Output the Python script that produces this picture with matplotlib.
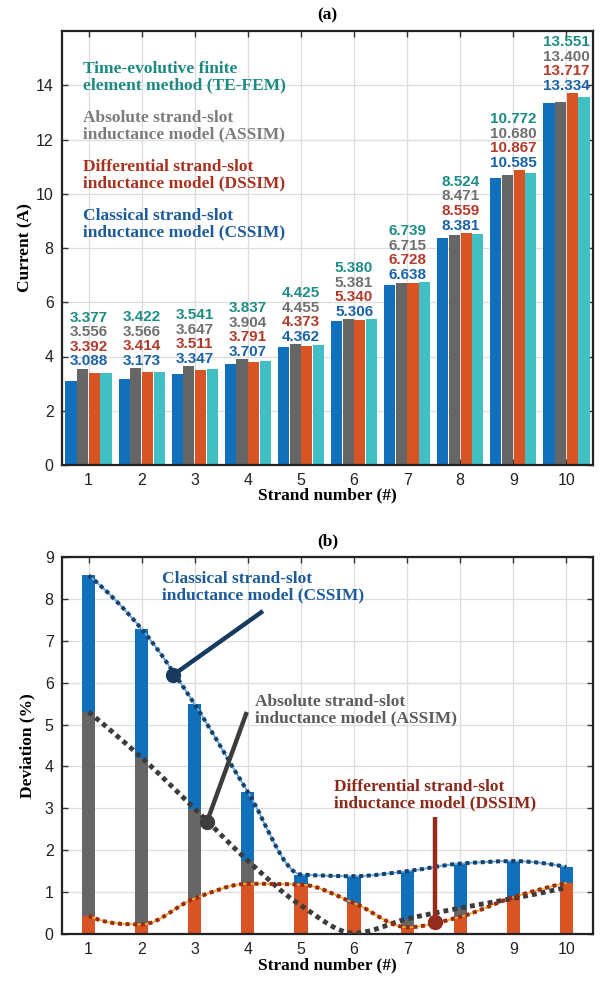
import matplotlib
matplotlib.use('Agg')
import matplotlib.pyplot as plt
from matplotlib.path import Path
from matplotlib.patches import PathPatch

plt.rcParams['font.family'] = ['Liberation Sans', 'DejaVu Sans']

# ---------------- data ----------------
strands = [1, 2, 3, 4, 5, 6, 7, 8, 9, 10]
cssim = [3.088, 3.173, 3.347, 3.707, 4.362, 5.306, 6.638, 8.381, 10.585, 13.334]
assim = [3.556, 3.566, 3.647, 3.904, 4.455, 5.381, 6.715, 8.471, 10.680, 13.400]
dssim = [3.392, 3.414, 3.511, 3.791, 4.373, 5.340, 6.728, 8.559, 10.867, 13.717]
tefem = [3.377, 3.422, 3.541, 3.837, 4.425, 5.380, 6.739, 8.524, 10.772, 13.551]

dev_cssim = [8.56, 7.28, 5.48, 3.39, 1.42, 1.38, 1.50, 1.68, 1.74, 1.60]
dev_assim = [5.30, 4.21, 2.99, 1.75, 0.68, 0.02, 0.36, 0.62, 0.85, 1.11]
dev_dssim = [0.44, 0.23, 0.85, 1.20, 1.18, 0.74, 0.16, 0.41, 0.88, 1.22]

top_yticks = [0, 2, 4, 6, 8, 10, 12, 14]
bot_yticks = [0, 1, 2, 3, 4, 5, 6, 7, 8, 9]

legend_a = [
    ("Time-evolutive finite\nelement method (TE-FEM)", '#1b8a82'),
    ("Absolute strand-slot\ninductance model (ASSIM)", '#7c7c7c'),
    ("Differential strand-slot\ninductance model (DSSIM)", '#a8321f'),
    ("Classical strand-slot\ninductance model (CSSIM)", '#1d5c99'),
]

# ---------------- style ----------------
C_BLUE = '#1170bb'
C_GRAY = '#666666'
C_ORANGE = '#d95424'
C_CYAN = '#40bfc5'
L_TEAL = '#1e8c84'
L_GRAY = '#707070'
L_RED = '#b23a2a'
L_BLUE = '#1a62a8'
SERIF = ['Liberation Serif', 'DejaVu Serif']
FS_SERIF = 12.5

W, H = 606, 981
fig = plt.figure(figsize=(W / 100, H / 100), dpi=100)


def style_axes(ax):
    ax.set_axisbelow(True)
    ax.grid(True, color='#dddddd', lw=0.9)
    for s in ax.spines.values():
        s.set_linewidth(1.6)
        s.set_color('#222222')
    ax.tick_params(direction='in', top=True, right=True, length=4, width=1,
                   color='#333333', labelsize=11.5, labelcolor='#222222', pad=6)


# ---------------- (a) ----------------
ax1 = fig.add_axes([62 / W, 1 - 465 / H, 531 / W, 434 / H])
style_axes(ax1)
bw = 0.21
series = [(cssim, C_BLUE, -0.33), (assim, C_GRAY, -0.11),
          (dssim, C_ORANGE, 0.11), (tefem, C_CYAN, 0.33)]
for vals, col, off in series:
    ax1.bar([s + off for s in strands], vals, width=bw, color=col, zorder=2)

for i, s in enumerate(strands):
    base = max(cssim[i], assim[i], dssim[i], tefem[i]) + 0.27
    for k, (vals, col) in enumerate([(cssim, L_BLUE), (dssim, L_RED),
                                      (assim, L_GRAY), (tefem, L_TEAL)]):
        ax1.text(s, base + k * 0.535, f'{vals[i]:.3f}', color=col,
                 fontsize=11, fontweight='bold', ha='center', va='center',
                 zorder=5)

ax1.set_xlim(0.5, 10.5)
ax1.set_ylim(0, 16)
ax1.set_xticks(strands)
ax1.set_yticks(top_yticks)
ax1.set_xlabel('Strand number (#)', family=SERIF, fontweight='bold',
               fontsize=FS_SERIF, labelpad=-1)
ax1.set_ylabel('Current (A)', family=SERIF, fontweight='bold',
               fontsize=FS_SERIF, labelpad=2)
ax1.set_title('(a)', family=SERIF, fontweight='bold', fontsize=FS_SERIF,
              pad=8)

for k, (txt, col) in enumerate(legend_a):
    ax1.text(0.040, 0.893 - k * 0.1129, txt, transform=ax1.transAxes,
             family=SERIF, fontweight='bold', fontsize=FS_SERIF, color=col,
             ha='left', va='center', linespacing=1.05)

# ---------------- (b) ----------------
ax2 = fig.add_axes([62 / W, 1 - 934 / H, 531 / W, 377 / H])
style_axes(ax2)
bw2 = 0.25
ax2.bar(strands, dev_cssim, width=bw2, color=C_BLUE, zorder=2)
ax2.bar(strands, dev_assim, width=bw2, color=C_GRAY, zorder=2)
ax2.bar(strands, dev_dssim, width=bw2, color=C_ORANGE, zorder=2)


def pchip_slopes(x, y):
    n = len(x)
    h = [x[i + 1] - x[i] for i in range(n - 1)]
    dl = [(y[i + 1] - y[i]) / h[i] for i in range(n - 1)]
    d = [0.0] * n
    for k in range(1, n - 1):
        if dl[k - 1] * dl[k] > 0:
            w1 = 2 * h[k] + h[k - 1]
            w2 = h[k] + 2 * h[k - 1]
            d[k] = (w1 + w2) / (w1 / dl[k - 1] + w2 / dl[k])
    for (k, a, b, ha, hb) in [(0, dl[0], dl[1], h[0], h[1]),
                              (n - 1, dl[-1], dl[-2], h[-1], h[-2])]:
        e = ((2 * ha + hb) * a - ha * b) / (ha + hb)
        if e * a <= 0:
            e = 0.0
        elif a * b < 0 and abs(e) > abs(3 * a):
            e = 3 * a
        d[k] = e
    return d


def smooth_path(x, y):
    d = pchip_slopes(x, y)
    verts = [(x[0], y[0])]
    codes = [Path.MOVETO]
    for i in range(len(x) - 1):
        h = x[i + 1] - x[i]
        verts += [(x[i] + h / 3, y[i] + d[i] * h / 3),
                  (x[i + 1] - h / 3, y[i + 1] - d[i + 1] * h / 3),
                  (x[i + 1], y[i + 1])]
        codes += [Path.CURVE4] * 3
    return Path(verts, codes)


curves = [
    (dev_assim, None, '#3c3c3c', 3.5, (0, (1, 0.85))),
    (dev_dssim, '#edb120', '#9a2a1a', 2.9, (0, (1, 0.9))),
    (dev_cssim, '#5aaae6', '#1b3f66', 2.9, (0, (1, 0.9))),
]
for vals, thin, dark, lw, ls in curves:
    p = smooth_path(strands, vals)
    if thin:
        ax2.add_patch(PathPatch(p, fill=False, edgecolor=thin, lw=1.3,
                                zorder=3))
    ax2.add_patch(PathPatch(p, fill=False, edgecolor=dark, lw=lw,
                            linestyle=ls, capstyle='butt', zorder=3.5))

# annotations
ann = [
    ((4.285, 7.71), (2.59, 6.18), '#173a5e'),
    ((3.98, 5.30), (3.23, 2.68), '#3d3d3d'),
    ((7.52, 2.79), (7.52, 0.29), '#952b1d'),
]
for (x0, y0), (x1, y1), col in ann:
    ax2.plot([x0, x1], [y0, y1], color=col, lw=3.2, solid_capstyle='butt',
             zorder=4)
    ax2.plot([x1], [y1], 'o', color=col, ms=10, zorder=4.5)

ax2.text(0.188, 0.919, "Classical strand-slot\ninductance model (CSSIM)",
         transform=ax2.transAxes, family=SERIF, fontweight='bold',
         fontsize=FS_SERIF, color='#1d5c99', ha='left', va='center',
         linespacing=1.05)
ax2.text(0.363, 0.594, "Absolute strand-slot\ninductance model (ASSIM)",
         transform=ax2.transAxes, family=SERIF, fontweight='bold',
         fontsize=FS_SERIF, color='#5c5c5c', ha='left', va='center',
         linespacing=1.05)
ax2.text(0.512, 0.369, "Differential strand-slot\ninductance model (DSSIM)",
         transform=ax2.transAxes, family=SERIF, fontweight='bold',
         fontsize=FS_SERIF, color='#8b2a1a', ha='left', va='center',
         linespacing=1.05)

ax2.set_xlim(0.5, 10.5)
ax2.set_ylim(0, 9)
ax2.set_xticks(strands)
ax2.set_yticks(bot_yticks)
ax2.set_xlabel('Strand number (#)', family=SERIF, fontweight='bold',
               fontsize=FS_SERIF, labelpad=0)
ax2.set_ylabel('Deviation (%)', family=SERIF, fontweight='bold',
               fontsize=FS_SERIF, labelpad=7)
ax2.set_title('(b)', family=SERIF, fontweight='bold', fontsize=FS_SERIF,
              pad=8)

fig.savefig('out.png', dpi=100, facecolor='white')
